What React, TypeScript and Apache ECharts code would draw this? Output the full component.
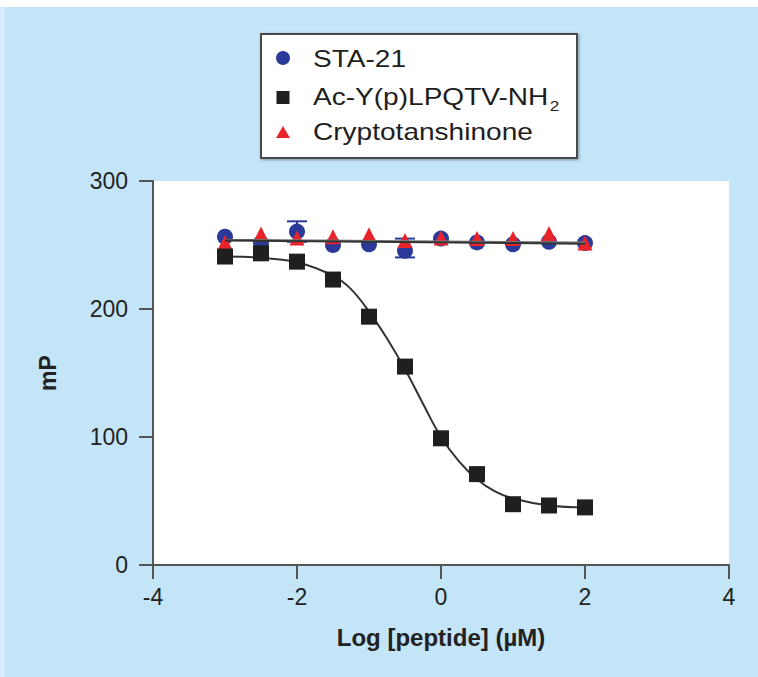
import React, { useEffect, useRef } from "react";
import * as echarts from "echarts";

const xValues = [-3, -2.5, -2, -1.5, -1, -0.5, 0, 0.5, 1, 1.5, 2];
const sta21 = [256.5, 251.5, 260.5, 250, 250.5, 245.5, 255, 252, 250.5, 252.5, 251.5];
const acPeptide = [241, 243.5, 237, 223, 194, 155, 99, 71, 47.5, 46.5, 45];
const crypto = [252, 258.5, 255.5, 256.5, 258, 253.5, 255.5, 255, 255, 259, 251.5];

// error bars for STA-21: [x, low, high]
const sta21Err = [
  [-2, 252.5, 268.5],
  [-0.5, 240.3, 255],
];

// fitted curves
const sta21Fit = [[-3, 253.5], [2, 251]];
const cryptoFit = [[-3, 254], [2, 252]];
const acFit = [
  [-3, 241], [-2.5, 240], [-2, 236.5], [-1.5, 226], [-1.25, 215.5], [-1, 198],
  [-0.75, 177], [-0.5, 153], [-0.25, 126], [0, 100], [0.25, 81], [0.5, 67],
  [0.75, 57.5], [1, 52], [1.5, 46.5], [2, 45],
];

const xTicks = [-4, -2, 0, 2, 4];
const yTicks = [0, 100, 200, 300];

const legendNames = ["STA-21", "Ac-Y(p)LPQTV-NH", "Cryptotanshinone"];

const BLUE = "#2b3a98";
const BLACK = "#1f1f1f";
const RED = "#e8232a";
const AXIS = "#555555";
const FONT = "'Liberation Sans', Arial, Helvetica, sans-serif";

export default function App() {
  const ref = useRef<HTMLDivElement>(null);
  useEffect(() => {
    if (!ref.current) return;
    const chart = echarts.init(ref.current, null, { renderer: "svg" });
    const pairs = (ys: number[]) => xValues.map((x, i) => [x, ys[i]]);
    const legendText = {
      fontFamily: FONT,
      fontSize: 23,
      fill: "#1e1e1e",
      verticalAlign: "middle",
      align: "left",
    };
    chart.setOption({
      animation: false,
      backgroundColor: "#c4e4f8",
      grid: { left: 153, right: 29, top: 181, bottom: 112, containLabel: false },
      xAxis: {
        type: "value",
        min: xTicks[0],
        max: xTicks[xTicks.length - 1],
        interval: 2,
        name: "Log [peptide] (µM)",
        nameLocation: "middle",
        nameGap: 60,
        nameTextStyle: { fontFamily: FONT, fontSize: 24, fontWeight: "bold", color: "#222" },
        axisLine: { onZero: false, lineStyle: { color: AXIS, width: 2 } },
        axisTick: { length: 14, lineStyle: { color: AXIS, width: 2 } },
        axisLabel: { margin: 20, fontFamily: FONT, fontSize: 23, color: "#222" },
        splitLine: { show: false },
      },
      yAxis: {
        type: "value",
        min: yTicks[0],
        max: yTicks[yTicks.length - 1],
        interval: 100,
        name: "mP",
        nameLocation: "middle",
        nameGap: 94,
        nameTextStyle: { fontFamily: FONT, fontSize: 23, fontWeight: "bold", color: "#222" },
        axisLine: { show: true, onZero: false, lineStyle: { color: AXIS, width: 2 } },
        axisTick: { show: true, length: 14, lineStyle: { color: AXIS, width: 2 } },
        axisLabel: { margin: 25, fontFamily: FONT, fontSize: 23, color: "#222" },
        splitLine: { show: false },
        splitArea: { show: true, areaStyle: { color: ["#ffffff"] } },
      },
      graphic: [
        { type: "rect", left: 0, top: 0, shape: { width: 758, height: 7 }, style: { fill: "#ffffff" }, z: 100 },
        { type: "rect", left: 0, top: 7, shape: { width: 5, height: 670 }, style: { fill: "#d3ebfa" }, z: 100 },
        {
          type: "group",
          left: 260,
          top: 33,
          z: 100,
          children: [
            {
              type: "rect",
              shape: { x: 0, y: 0, width: 316, height: 124 },
              style: { fill: "#ffffff", stroke: "#4a4a4a", lineWidth: 2, shadowColor: "rgba(0,0,0,0.35)", shadowBlur: 3, shadowOffsetX: 1, shadowOffsetY: 1 },
            },
            { type: "circle", shape: { cx: 22, cy: 24, r: 7 }, style: { fill: BLUE } },
            { type: "rect", shape: { x: 15.5, y: 57, width: 13, height: 13 }, style: { fill: BLACK } },
            { type: "polygon", shape: { points: [[22, 92], [15, 104], [29, 104]] }, style: { fill: RED } },
            { type: "text", x: 52, y: 25, scaleX: 1.22, style: { ...legendText, text: legendNames[0] } },
            {
              type: "text",
              x: 52,
              y: 63,
              scaleX: 1.22,
              style: {
                ...legendText,
                text: legendNames[1] + "{sub|2}",
                rich: { sub: { fontFamily: FONT, fontSize: 14, fill: "#1e1e1e", padding: [18, 0, 0, 1] } },
              },
            },
            { type: "text", x: 52, y: 98, scaleX: 1.22, style: { ...legendText, text: legendNames[2] } },
          ],
        },
      ],
      series: [
        {
          name: "STA-21 error",
          type: "custom",
          data: sta21Err,
          z: 3,
          renderItem: (params: any, api: any) => {
            const x = api.value(0);
            const lo = api.coord([x, api.value(1)]);
            const hi = api.coord([x, api.value(2)]);
            const w = 10;
            const st = { stroke: BLUE, lineWidth: 2 };
            return {
              type: "group",
              children: [
                { type: "line", shape: { x1: lo[0], y1: lo[1], x2: hi[0], y2: hi[1] }, style: st },
                { type: "line", shape: { x1: lo[0] - w, y1: lo[1], x2: lo[0] + w, y2: lo[1] }, style: st },
                { type: "line", shape: { x1: hi[0] - w, y1: hi[1], x2: hi[0] + w, y2: hi[1] }, style: st },
              ],
            };
          },
        },
        {
          name: "STA-21",
          type: "scatter",
          data: pairs(sta21),
          symbol: "circle",
          symbolSize: 16,
          itemStyle: { color: BLUE, opacity: 1 },
          z: 4,
        },
        {
          name: "Cryptotanshinone",
          type: "scatter",
          data: pairs(crypto),
          symbol: "triangle",
          symbolSize: [15, 15],
          itemStyle: { color: RED, opacity: 1 },
          z: 5,
        },
        {
          name: "Crypto fit",
          type: "line",
          data: cryptoFit,
          showSymbol: false,
          lineStyle: { color: "#7a7a7a", width: 2 },
          z: 6,
        },
        {
          name: "STA fit",
          type: "line",
          data: sta21Fit,
          showSymbol: false,
          lineStyle: { color: "#333333", width: 2 },
          z: 6,
        },
        {
          name: "Ac fit",
          type: "line",
          data: acFit,
          smooth: 0.4,
          showSymbol: false,
          lineStyle: { color: "#333333", width: 2 },
          z: 6,
        },
        {
          name: "Ac-Y(p)LPQTV-NH2",
          type: "scatter",
          data: pairs(acPeptide),
          symbol: "rect",
          symbolSize: 16,
          itemStyle: { color: BLACK, opacity: 1 },
          z: 7,
        },
      ],
    });
    return () => chart.dispose();
  }, []);
  return (
    <div
      ref={ref}
      style={{ position: "fixed", left: 0, top: 0, width: 758, height: 677 }}
    />
  );
}
